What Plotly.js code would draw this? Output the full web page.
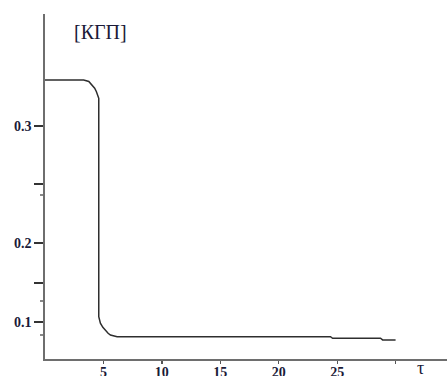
<!DOCTYPE html>
<html>
<head>
<meta charset="utf-8">
<script src="https://cdn.plot.ly/plotly-3.0.1.min.js"></script>
<style>html,body{margin:0;padding:0;background:#fff;}#chart{width:448px;height:376px;}</style>
</head>
<body>
<div id="chart"></div>
<script>
// Curve: time tau vs [KGP]
var tau = [0, 3.31, 3.75, 4.03, 4.25, 4.40, 4.52, 4.60, 4.60, 4.66, 4.74, 4.95, 5.17, 5.40, 5.60, 5.85, 6.17, 24.43, 24.61, 28.71, 28.89, 30.0];
var kgp = [0.3469, 0.3469, 0.3455, 0.3418, 0.3385, 0.3350, 0.3315, 0.3283, 0.1054, 0.1020, 0.0987, 0.0945, 0.0911, 0.0885, 0.0867, 0.0856, 0.0850, 0.0850, 0.0834, 0.0834, 0.0817, 0.0817];

// Axis ticks
var xTickVals = [5, 10, 15, 20, 25, 30];
var xTickText = ['5', '10', '15', '20', '25', ''];
var yTickVals = [0.3, 0.2408, 0.1806, 0.1398, 0.1];
var yTickText = ['0.3', '', '0.2', '', '0.1'];
var yMinorVals = [0.2296, 0.1214, 0.0867];

var titleText = '[КГП]';
var xLabelText = 'τ';

var serif = '"Liberation Serif", "Times New Roman", serif';
var tickFont = {family: serif, size: 14, color: '#1a1a38', weight: 700};

var data = [{
  x: tau, y: kgp, type: 'scatter', mode: 'lines',
  line: {color: '#2e2e2e', width: 1.5},
  hoverinfo: 'none'
}];

var layout = {
  width: 448, height: 376,
  margin: {l: 45, r: 1, t: 14, b: 17, pad: 0},
  paper_bgcolor: '#ffffff', plot_bgcolor: '#ffffff',
  showlegend: false,
  xaxis: {
    range: [0, 34.4], showgrid: false, zeroline: false,
    showline: true, linecolor: '#6e6e6e', linewidth: 1.6,
    ticks: 'outside', ticklen: 3, tickwidth: 1.3, tickcolor: '#555',
    tickmode: 'array', tickvals: xTickVals, ticktext: xTickText,
    tickfont: tickFont, ticklabelstandoff: -3
  },
  yaxis: {
    range: [0.0622, 0.4143], showgrid: false, zeroline: false,
    showline: true, linecolor: '#6e6e6e', linewidth: 1.6,
    ticks: 'outside', ticklen: 9, tickwidth: 1.3, tickcolor: '#333',
    tickmode: 'array', tickvals: yTickVals, ticktext: yTickText,
    tickfont: tickFont, ticklabelstandoff: 0,
    minor: {tickmode: 'array', tickvals: yMinorVals, ticklen: 3, tickcolor: '#888', tickwidth: 1.2, showgrid: false}
  },
  annotations: [
    {text: titleText, xref: 'paper', yref: 'paper', x: 0.139, y: 0.948, xanchor: 'center', yanchor: 'middle',
     showarrow: false, font: {family: serif, size: 20, color: '#1a1a38'}},
    {text: xLabelText, xref: 'paper', yref: 'paper', x: 0.933, y: 0.008, xanchor: 'center', yanchor: 'top',
     showarrow: false, font: {family: serif, size: 18, color: '#1a1a38'}}
  ]
};

Plotly.newPlot('chart', data, layout, {staticPlot: true, displayModeBar: false});
</script>
</body>
</html>
